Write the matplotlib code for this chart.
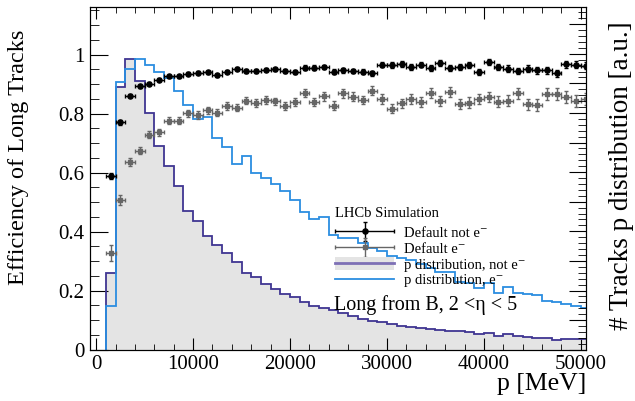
import matplotlib
matplotlib.use("Agg")
import matplotlib.pyplot as plt
import numpy as np
from matplotlib.lines import Line2D
from matplotlib.patches import Patch
from matplotlib.ticker import MultipleLocator, FuncFormatter
from matplotlib.legend_handler import HandlerErrorbar

plt.rcParams["font.family"] = ["Liberation Serif", "DejaVu Serif"]

# momentum binning [MeV]
bin_edges = np.arange(1000, 52000, 1000)
bin_centres = bin_edges[:-1] + 500

eff_not_e = [0.590, 0.770, 0.861, 0.892, 0.901, 0.915, 0.927, 0.926, 0.935, 0.939,
             0.940, 0.930, 0.942, 0.952, 0.944, 0.944, 0.949, 0.950, 0.943, 0.942,
             0.956, 0.956, 0.958, 0.942, 0.947, 0.944, 0.942, 0.936, 0.966, 0.965,
             0.968, 0.958, 0.966, 0.953, 0.970, 0.955, 0.959, 0.963, 0.940, 0.974,
             0.957, 0.952, 0.945, 0.952, 0.947, 0.947, 0.936, 0.967, 0.965, 0.962]
err_not_e = [0.010, 0.008, 0.006, 0.005, 0.005, 0.005, 0.005, 0.005, 0.005, 0.005,
             0.005, 0.005, 0.006, 0.006, 0.006, 0.006, 0.006, 0.006, 0.007, 0.007,
             0.007, 0.007, 0.007, 0.008, 0.008, 0.008, 0.008, 0.008, 0.008, 0.009,
             0.009, 0.009, 0.009, 0.010, 0.010, 0.010, 0.010, 0.010, 0.011, 0.011,
             0.011, 0.011, 0.011, 0.012, 0.012, 0.012, 0.012, 0.012, 0.012, 0.012]

eff_e = [0.327, 0.506, 0.637, 0.674, 0.729, 0.737, 0.775, 0.775, 0.801, 0.795,
         0.811, 0.803, 0.826, 0.820, 0.844, 0.836, 0.846, 0.841, 0.826, 0.839,
         0.869, 0.839, 0.858, 0.827, 0.869, 0.857, 0.846, 0.877, 0.849, 0.817,
         0.835, 0.849, 0.840, 0.871, 0.841, 0.872, 0.833, 0.837, 0.849, 0.856,
         0.840, 0.844, 0.869, 0.832, 0.830, 0.865, 0.867, 0.856, 0.843, 0.849]
err_e = [0.028, 0.017, 0.013, 0.012, 0.012, 0.012, 0.012, 0.012, 0.012, 0.012,
         0.012, 0.012, 0.013, 0.013, 0.013, 0.013, 0.013, 0.013, 0.014, 0.014,
         0.014, 0.014, 0.014, 0.015, 0.015, 0.015, 0.015, 0.015, 0.016, 0.016,
         0.016, 0.016, 0.017, 0.017, 0.017, 0.017, 0.018, 0.018, 0.018, 0.018,
         0.019, 0.019, 0.019, 0.019, 0.020, 0.020, 0.020, 0.020, 0.020, 0.020]

# normalised p distributions
p_dist_not_e = [0.260, 0.889, 0.985, 0.911, 0.803, 0.690, 0.624, 0.553, 0.471, 0.437,
                0.386, 0.356, 0.329, 0.296, 0.261, 0.245, 0.224, 0.206, 0.189, 0.178,
                0.163, 0.147, 0.141, 0.136, 0.124, 0.113, 0.104, 0.098, 0.093, 0.086,
                0.082, 0.078, 0.074, 0.069, 0.066, 0.065, 0.063, 0.060, 0.052, 0.056,
                0.047, 0.053, 0.046, 0.042, 0.041, 0.039, 0.034, 0.035, 0.035, 0.036]
p_dist_e = [0.148, 0.908, 0.950, 0.985, 0.963, 0.940, 0.919, 0.878, 0.829, 0.782,
            0.790, 0.716, 0.688, 0.628, 0.657, 0.597, 0.583, 0.561, 0.539, 0.507,
            0.468, 0.443, 0.448, 0.387, 0.380, 0.378, 0.360, 0.346, 0.333, 0.316,
            0.310, 0.305, 0.290, 0.276, 0.262, 0.262, 0.228, 0.227, 0.208, 0.225,
            0.191, 0.214, 0.191, 0.189, 0.185, 0.166, 0.160, 0.155, 0.147, 0.141]

PURPLE = "#3f3592"
BLUE = "#2b8de0"
FILL = "#e4e4e4"
GREY = "#666666"

fig = plt.figure(figsize=(6.35, 4.01), dpi=100)
ax = fig.add_axes([0.1422, 0.1279, 0.7802, 0.8539])

ax.stairs(p_dist_not_e, bin_edges, fill=True, color=FILL, zorder=1)
ax.stairs(p_dist_not_e, bin_edges, color=PURPLE, linewidth=1.3, zorder=2)
ax.stairs(p_dist_e, bin_edges, color=BLUE, linewidth=1.3, zorder=2)

eb_not_e = ax.errorbar(bin_centres, eff_not_e, xerr=500, yerr=err_not_e, fmt="o",
                       ms=3.7, color="black", elinewidth=1.0, capsize=1.5, zorder=4)
eb_e = ax.errorbar(bin_centres, eff_e, xerr=500, yerr=err_e, fmt="s",
                   ms=3.5, color=GREY, elinewidth=1.0, capsize=1.5, zorder=3)

ax.set_xlim(-600, 50500)
ax.set_ylim(0, 1.16)
ax.xaxis.set_major_locator(MultipleLocator(10000))
ax.xaxis.set_minor_locator(MultipleLocator(2000))
ax.yaxis.set_major_locator(MultipleLocator(0.2))
ax.yaxis.set_minor_locator(MultipleLocator(0.05))
ax.xaxis.set_major_formatter(FuncFormatter(lambda v, _: f"{v:.0f}"))
ax.yaxis.set_major_formatter(FuncFormatter(lambda v, _: f"{v:g}"))
ax.tick_params(which="both", direction="in", top=True, right=False, labelsize=15, pad=4)
ax.tick_params(axis="x", which="major", length=8.6)
ax.tick_params(axis="x", which="minor", length=4.3)
ax.tick_params(axis="y", which="major", length=13)
ax.tick_params(axis="y", which="minor", length=6.5)

# right-hand axis for the p distribution
ax2 = ax.twinx()
ax2.set_ylim(0, 11.57)
ax2.yaxis.set_major_locator(MultipleLocator(1))
ax2.yaxis.set_minor_locator(MultipleLocator(0.2))
ax2.tick_params(axis="y", which="both", direction="in", labelright=False)
ax2.tick_params(axis="y", which="major", length=12)
ax2.tick_params(axis="y", which="minor", length=6)

fig.text(19 / 635, 1 - 157 / 401, "Efficiency of Long Tracks", rotation=90,
         ha="center", va="center", fontsize=17.5)
fig.text(621 / 635, 1 - 176 / 401, "# Tracks p distribution [a.u.]", rotation=90,
         ha="center", va="center", fontsize=19.5)
fig.text(586 / 635, 1 - 384 / 401, "p [MeV]", ha="right", va="center", fontsize=18.5)

ax.text(0.494, 0.399, "LHCb Simulation", transform=ax.transAxes,
        ha="left", va="center", fontsize=10.5, zorder=6)
ax.text(0.491, 0.1305, "Long from B, 2 <η < 5", transform=ax.transAxes,
        ha="left", va="center", fontsize=14.5, zorder=6)

handles = [
    eb_not_e,
    eb_e,
    (Patch(facecolor=FILL, edgecolor="none"), Line2D([], [], color="#7d70b5", lw=2)),
    Line2D([], [], color=BLUE, lw=1.3),
]
labels = ["Default not e⁻", "Default e⁻", "p distribution, not e⁻", "p distribution, e⁻"]
ax.legend(handles, labels, loc="upper left", bbox_to_anchor=(0.494, 0.362),
          frameon=False, fontsize=10.5, borderpad=0, borderaxespad=0,
          handlelength=4.05, handletextpad=0.65, labelspacing=0.12, handleheight=0.9,
          handler_map={type(eb_not_e): HandlerErrorbar(xerr_size=2.0, yerr_size=0.65)})

fig.savefig("out.png", dpi=100)
